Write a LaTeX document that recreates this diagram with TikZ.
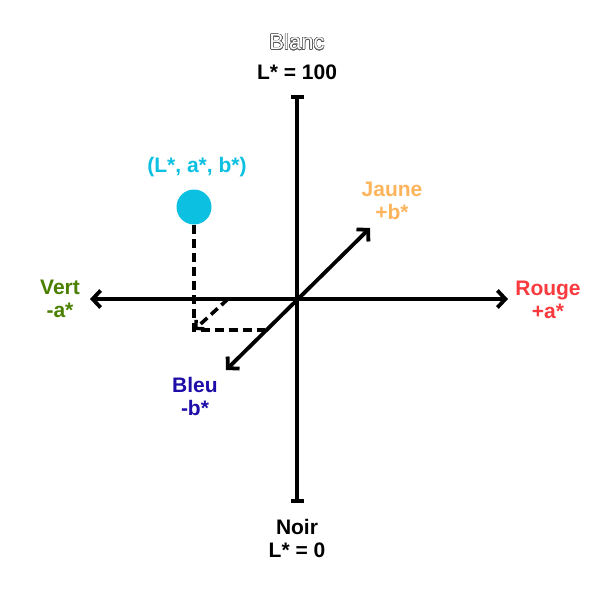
\documentclass[tikz,border=0pt]{standalone}
\usepackage{fontspec}
\setmainfont{Liberation Sans}
\usepackage{contour}
\contourlength{0.5pt}
\contournumber{32}
\usetikzlibrary{arrows.meta}
\definecolor{cyanpt}{HTML}{0BC0E0}
\definecolor{jaune}{HTML}{FDB45C}
\definecolor{rouge}{HTML}{F93A3F}
\definecolor{vert}{HTML}{4A7F00}
\definecolor{bleu}{HTML}{1E0DA8}
\tikzset{
  axis/.style={line width=3.8pt, black},
  barb/.tip={Straight Barb[length=8pt,width=17pt,line width=3.8pt]},
  dashline/.style={line width=3.6pt, dash pattern=on 9pt off 5pt},
  lbl/.style={font=\bfseries\fontsize{21}{23}\selectfont, align=center, inner sep=0pt}
}
\begin{document}
\begin{tikzpicture}[x=1pt,y=-1pt]
\useasboundingbox (0,0) rectangle (600,600);
\coordinate (O) at (297,299);
\coordinate (T) at (297,95);
\coordinate (B) at (297,503);
\coordinate (L) at (90,299);
\coordinate (R) at (508,299);
\coordinate (DL) at (226,370);
\coordinate (DU) at (370,228);
\coordinate (C) at (194,330);
\coordinate (H) at (265,330);
\coordinate (A) at (228,299);
\node[circle, fill=cyanpt, minimum size=35pt, inner sep=0pt] (pt) at (194,207) {};
\draw[axis, {Bar[width=13pt,line width=3.8pt]}-{Bar[width=13pt,line width=3.8pt]}] (T) -- (B);
\draw[axis, barb-barb] (L) -- (R);
\draw[axis, barb-barb] (DL) -- (DU);
\draw[dashline] (pt.south) -- (C) -- (H);
\draw[dashline, -{Straight Barb[length=6pt,width=12pt,line width=3.4pt]}] (A) -- (C);
\node[inner sep=0pt, font=\fontsize{22}{24}\selectfont] (blanc) at (297,42) {\contour{black!65}{\textcolor{white}{Blanc}}};
\node[lbl] (l100) at (297,72) {L* = 100};
\node[lbl, text=cyanpt] (lab) at (197,167) {(L*, a*, b*)};
\node[lbl, text=jaune] (jaune) at (392,201) {Jaune\\+b*};
\node[lbl, text=rouge] (rouge) at (548,300) {Rouge\\+a*};
\node[lbl, text=vert] (vert) at (60,299) {Vert\\-a*};
\node[lbl, text=bleu] (bleu) at (195,396) {Bleu\\-b*};
\node[lbl] (noir) at (297,538) {Noir\\L* = 0};
\end{tikzpicture}
\end{document}
